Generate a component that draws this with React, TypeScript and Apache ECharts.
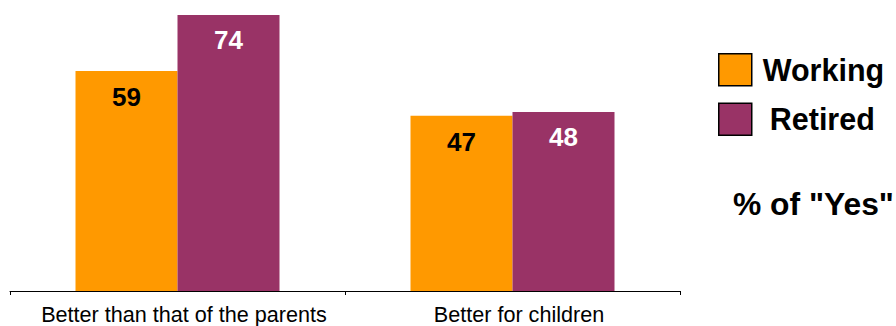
import React, { useEffect, useRef } from "react";
import * as echarts from "echarts";

const categories = ["Better than that of the parents", "Better for children"];
const working = [59, 47];
const retired = [74, 48];
const seriesNames = ["Working", "Retired"];
const noteText = '% of "Yes"';

const FONT = "'Liberation Sans', Arial, Helvetica, sans-serif";

export default function App() {
  const ref = useRef<HTMLDivElement>(null);
  useEffect(() => {
    if (!ref.current) return;
    const chart = echarts.init(ref.current, null, { renderer: "svg" });
    const legendPads = [6, 13];
    chart.setOption({
      animation: false,
      backgroundColor: "#ffffff",
      grid: { left: 10, right: 216, top: 0, bottom: 35, containLabel: false },
      xAxis: {
        type: "category",
        data: categories,
        boundaryGap: true,
        axisLine: { show: true, lineStyle: { color: "#000", width: 1 } },
        axisTick: { show: true, length: 4, lineStyle: { color: "#000" } },
        axisLabel: {
          color: "#000",
          fontSize: 21.6,
          fontFamily: FONT,
          margin: 12,
          interval: 0,
          padding: [0, 0, 0, 13],
        },
      },
      yAxis: {
        type: "value",
        min: 0,
        max: 78,
        show: false,
        splitLine: { show: false },
      },
      legend: {
        orient: "vertical",
        left: 713,
        top: 48,
        itemWidth: 33,
        itemHeight: 32,
        itemGap: 16,
        icon: "rect",
        data: seriesNames.map((n, i) => ({
          name: n,
          textStyle: { padding: [0, 0, 0, legendPads[i]] },
        })),
        itemStyle: { borderColor: "#000", borderWidth: 1.5 },
        textStyle: {
          color: "#000",
          fontSize: 30.5,
          fontWeight: "bold",
          fontFamily: FONT,
        },
      },
      graphic: [
        {
          type: "text",
          left: 733,
          top: 188,
          style: {
            text: noteText,
            fill: "#000",
            font: `bold 31.8px ${FONT}`,
          },
        },
      ],
      series: [
        {
          name: seriesNames[0],
          type: "bar",
          data: working,
          barWidth: 102,
          barGap: "0%",
          itemStyle: { color: "#FF9900" },
          label: {
            show: true,
            position: "insideTop",
            distance: 13,
            color: "#000",
            fontSize: 26,
            fontWeight: "bold",
            fontFamily: FONT,
          },
        },
        {
          name: seriesNames[1],
          type: "bar",
          data: retired,
          barWidth: 102,
          barGap: "0%",
          itemStyle: { color: "#993366" },
          label: {
            show: true,
            position: "insideTop",
            distance: 12,
            color: "#fff",
            fontSize: 26,
            fontWeight: "bold",
            fontFamily: FONT,
          },
        },
      ],
    });
    return () => chart.dispose();
  }, []);
  return (
    <div
      ref={ref}
      style={{ position: "absolute", left: 0, top: 0, width: 896, height: 326 }}
    />
  );
}
